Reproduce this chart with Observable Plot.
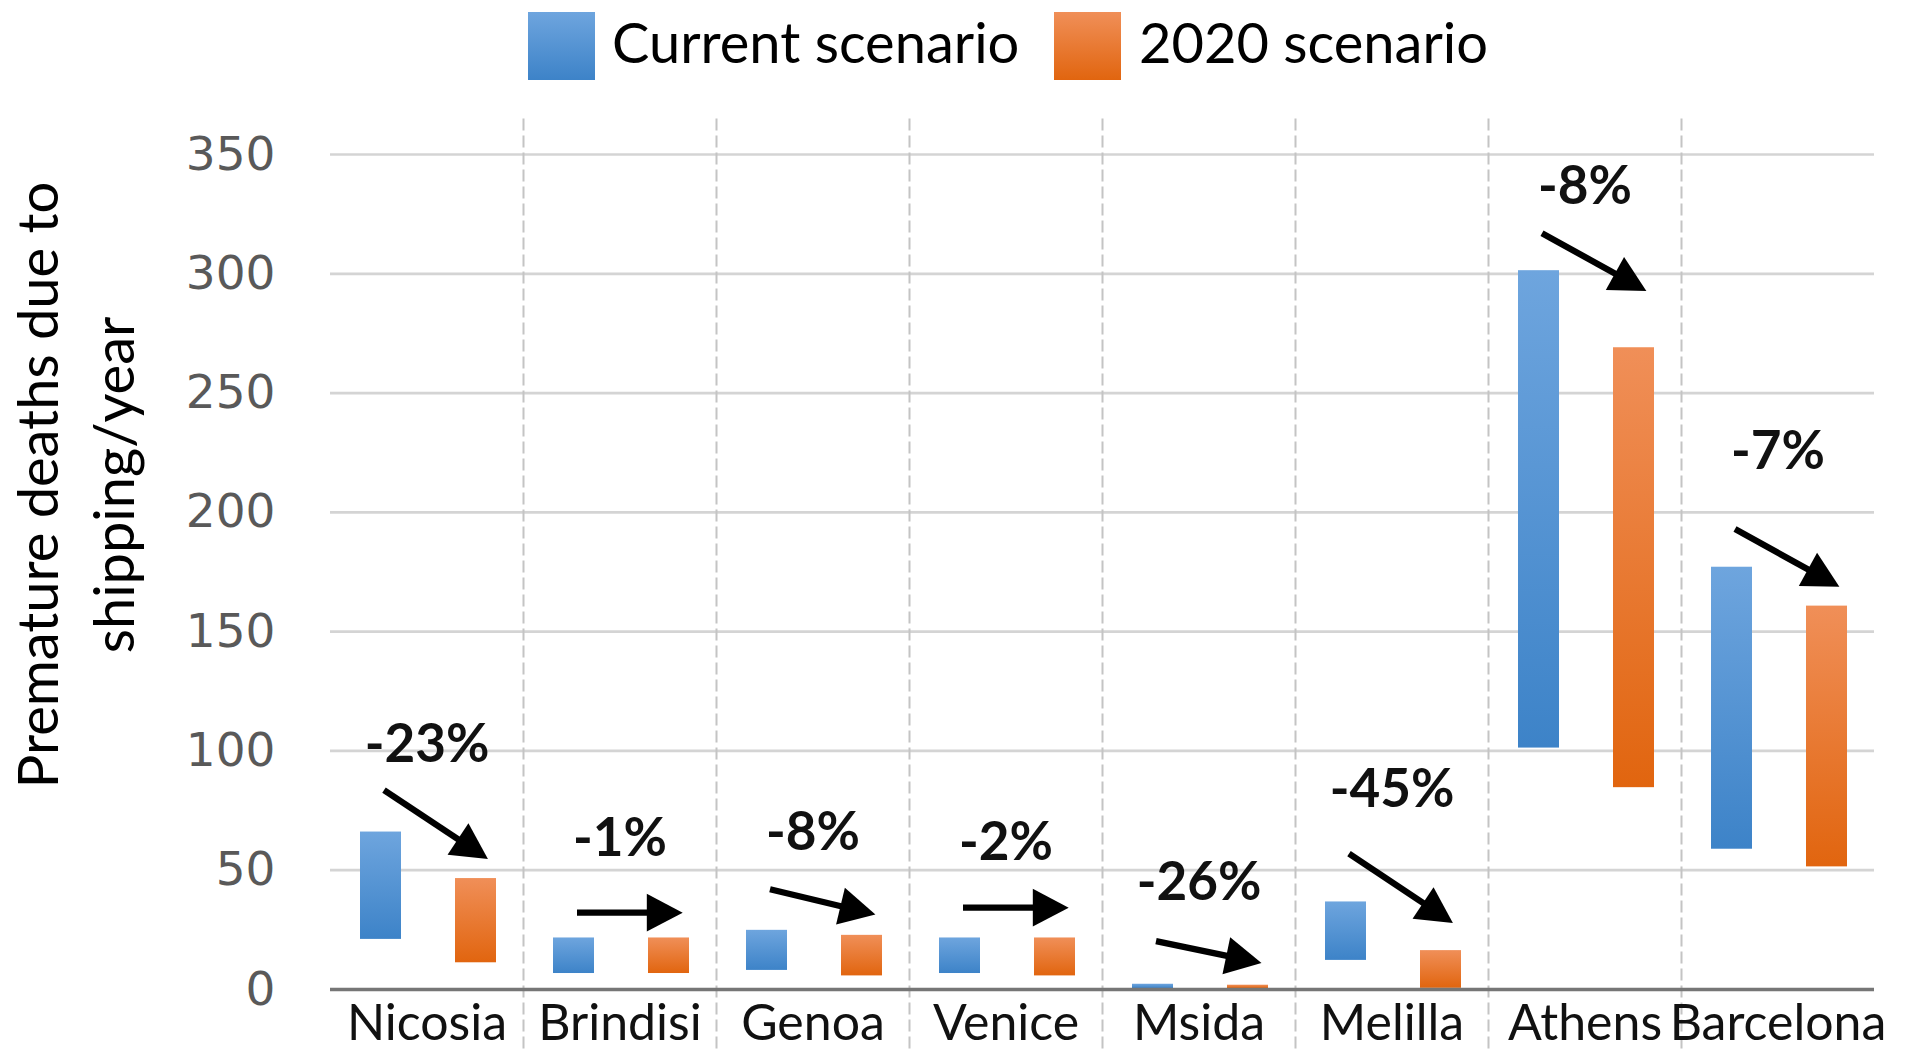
<!DOCTYPE html>
<html>
<head>
<meta charset="utf-8">
<script src="https://cdn.jsdelivr.net/npm/d3@7"></script>
<script src="https://cdn.jsdelivr.net/npm/@observablehq/plot@0.6"></script>
<style>
  html, body { margin: 0; padding: 0; background: #fff; }
  #wrap { position: relative; width: 1920px; height: 1064px; overflow: hidden; font-family: Lato, "Open Sans", sans-serif; }
  #legend { position: relative; height: 110px; }
  .sw { position: absolute; top: 12px; width: 67px; height: 68px; }
  .lt { position: absolute; top: 14px; font-size: 56px; line-height: 56px; color: #000; white-space: nowrap; }
  #ytitle { position: absolute; left: 75px; top: 485px; transform: translate(-50%, -50%) rotate(-90deg);
            font-size: 56px; line-height: 76px; text-align: center; white-space: nowrap; color: #000; }
  #chart svg { display: block; }
</style>
</head>
<body>
<div id="wrap">
  <div id="legend"></div>
  <div id="chart"></div>
  <div id="ytitle"></div>
</div>
<script>
// ---- data ----
const cities = ["Nicosia", "Brindisi", "Genoa", "Venice", "Msida", "Melilla", "Athens", "Barcelona"];
const scenarios = ["Current scenario", "2020 scenario"];
const currentLow  = [21.0, 6.7, 8.0, 6.7, 0.4, 12.2, 101.2, 58.8];
const currentHigh = [66.0, 21.6, 24.8, 21.6, 2.2, 36.7, 301.3, 177.0];
const futureLow   = [11.2, 6.7, 5.7, 5.7, 0.4, 0.5, 84.6, 51.4];
const futureHigh  = [46.5, 21.6, 22.7, 21.6, 1.8, 16.3, 269.0, 160.7];
const changeLabels = ["-23%", "-1%", "-8%", "-2%", "-26%", "-45%", "-8%", "-7%"];
const labelY     = [102.6, 63.0, 65.6, 61.5, 44.6, 83.6, 336.5, 225.2];
const arrowFromY = [83.6, 32.2, 42.0, 34.3, 20.3, 57.0, 317.0, 193.0];
const arrowToY   = [57.2, 32.2, 32.5, 34.3, 12.0, 30.4, 295.0, 171.0];
const yTicks = [0, 50, 100, 150, 200, 250, 300, 350];
const yTitle = ["Premature deaths due to", "shipping/year"];

// ---- tables built from the arrays ----
const bars = cities.flatMap((c, i) => [
  {city: c, scenario: scenarios[0], lo: currentLow[i], hi: currentHigh[i]},
  {city: c, scenario: scenarios[1], lo: futureLow[i], hi: futureHigh[i]}
]);
const notes = cities.map((c, i) => ({
  city: c, label: changeLabels[i], ly: labelY[i],
  from: scenarios[0], to: scenarios[1], y1: arrowFromY[i], y2: arrowToY[i]
}));

// filled arrow-head marker
function arrowHead(color) {
  const ns = "http://www.w3.org/2000/svg";
  const m = document.createElementNS(ns, "marker");
  m.setAttribute("viewBox", "-4.5 -3.5 7 7");
  m.setAttribute("markerWidth", 7);
  m.setAttribute("markerHeight", 7);
  m.setAttribute("refX", 0);
  m.setAttribute("refY", 0);
  m.setAttribute("orient", "auto");
  const p = document.createElementNS(ns, "path");
  p.setAttribute("d", "M-4,-3L1.7,0L-4,3Z");
  p.setAttribute("fill", color);
  p.setAttribute("stroke", "none");
  m.appendChild(p);
  return m;
}

const separators = cities.slice(1).map(c => Plot.frame({
  anchor: "left", fx: [c], stroke: "#c4c4c4", strokeWidth: 2,
  strokeDasharray: "10,7", insetTop: -35, insetBottom: -61
}));

const svg = Plot.plot({
  width: 1920,
  height: 954,
  marginTop: 44,
  marginBottom: 75,
  marginLeft: 327,
  marginRight: 44,
  style: {fontFamily: "Lato, 'Open Sans', sans-serif", background: "white", overflow: "visible"},
  fx: {domain: cities, padding: 0},
  x: {domain: scenarios, paddingInner: 0.57, paddingOuter: 0.295, align: 0.53, axis: null},
  y: {domain: [0, 350], axis: null},
  marks: [
    Plot.gridY(yTicks.filter(d => d > 0), {stroke: "#d4d4d4", strokeOpacity: 1, strokeWidth: 2.7}),
    ...separators,
    Plot.barY(bars.filter(d => d.scenario === scenarios[0]), {fx: "city", x: "scenario", y1: "lo", y2: "hi", fill: "url(#gBlue)"}),
    Plot.barY(bars.filter(d => d.scenario === scenarios[1]), {fx: "city", x: "scenario", y1: "lo", y2: "hi", fill: "url(#gOrange)"}),
    Plot.ruleY([0], {stroke: "#767676", strokeWidth: 3.3}),
    Plot.axisY({ticks: yTicks, tickSize: 0, tickPadding: 55, fontSize: 47, fontFamily: "DejaVu Sans", fill: "#595959", label: null}),
    Plot.axisFx({anchor: "bottom", tickSize: 0, tickPadding: 15, fontSize: 50, fill: "#111", label: null}),
    Plot.link(notes, {fx: "city", x1: "from", x2: "to", y1: "y1", y2: "y2", dx: 3,
      stroke: "black", strokeWidth: 6.3, markerEnd: arrowHead}),
    Plot.text(notes, {fx: "city", y: "ly", text: "label", fontSize: 53, fontWeight: "bold", fill: "#111"})
  ]
});

// gradient definitions for the bars
const ns = "http://www.w3.org/2000/svg";
const defs = document.createElementNS(ns, "defs");
function grad(id, top, bottom) {
  const g = document.createElementNS(ns, "linearGradient");
  g.setAttribute("id", id);
  g.setAttribute("x1", 0); g.setAttribute("y1", 0);
  g.setAttribute("x2", 0); g.setAttribute("y2", 1);
  [[0, top], [1, bottom]].forEach(([o, c]) => {
    const s = document.createElementNS(ns, "stop");
    s.setAttribute("offset", o);
    s.setAttribute("stop-color", c);
    g.appendChild(s);
  });
  defs.appendChild(g);
}
grad("gBlue", "#6ea5de", "#3d83c8");
grad("gOrange", "#f08f58", "#e1650f");
svg.insertBefore(defs, svg.firstChild);
document.getElementById("chart").appendChild(svg);

// legend
const legend = document.getElementById("legend");
const legendItems = [
  {label: scenarios[0], grad: "linear-gradient(#6ea5de, #3d83c8)", sw: 528, tx: 612},
  {label: scenarios[1], grad: "linear-gradient(#f08f58, #e1650f)", sw: 1054, tx: 1139}
];
legendItems.forEach(it => {
  const s = document.createElement("div");
  s.className = "sw"; s.style.left = it.sw + "px"; s.style.background = it.grad;
  const t = document.createElement("div");
  t.className = "lt"; t.style.left = it.tx + "px"; t.textContent = it.label;
  legend.appendChild(s); legend.appendChild(t);
});

// y title (two lines)
const yt = document.getElementById("ytitle");
yTitle.forEach(line => { const d = document.createElement("div"); d.textContent = line; yt.appendChild(d); });
</script>
</body>
</html>
